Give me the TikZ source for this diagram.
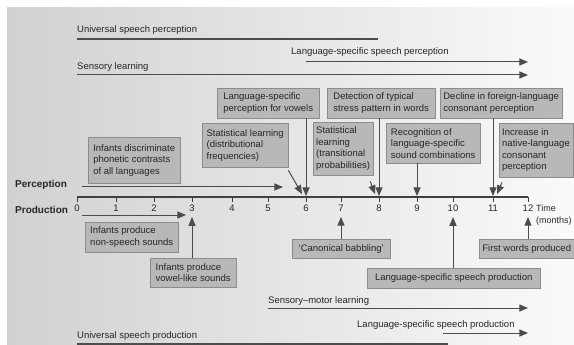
\documentclass[tikz,border=0pt]{standalone}
\usepackage{fontspec}
\setsansfont{Liberation Sans}
\usetikzlibrary{positioning}
\usetikzlibrary{arrows}
\usetikzlibrary{calc}

\tikzset{
  stage/.style={draw=black!45,fill=black!28,anchor=north west,align=left,inner sep=3pt,text=black!85},
  phase/.style={anchor=base west,inner sep=0pt,text=black!85},
  span/.style={line width=1pt,draw=black!70},
  bar/.style={line width=2pt,draw=black!70},
  axis/.style={line width=1pt,draw=black!75},
}

\begin{document}
\begin{tikzpicture}[>=triangle 45,font=\sffamily\fontsize{9.5}{11.5}\selectfont,x=1pt,y=-1pt]
    \useasboundingbox (0,0) rectangle (574,345);
    \shade [left color=black!18,right color=black!2] (7,8) rectangle (574,345);

    % time axis
    \foreach \m/\x in {0/77,1/116,2/154,3/192,4/232,5/268,6/306,7/341,8/379,9/417,10/453,11/493,12/528}{
        \coordinate (m\m) at (\x,197);
        \draw [axis] (m\m) -- ++(0,5) coordinate (t\m);
        \node (n\m) [below=2pt of t\m,inner sep=1pt,text=black!85] {\m};
    }
    \draw [axis] (m0) -- (m12);
    \node (time) [anchor=north west,align=left,inner sep=0pt,text=black!85,font=\sffamily\fontsize{9}{11.5}\selectfont] at (536,205) {Time\\(months)};

    \node (perc) [anchor=base west,inner sep=0pt,font=\sffamily\bfseries\fontsize{10}{12}\selectfont,text=black!85] at (15,188) {Perception};
    \node (prod) [anchor=base west,inner sep=0pt,font=\sffamily\bfseries\fontsize{10}{12}\selectfont,text=black!85] at (15,213) {Production};

    % phases, perception
    \node (usp)  [phase] at (77,33)  {Universal speech perception};
    \node (lssp) [phase] at (291,55) {Language-specific speech perception};
    \node (sl)   [phase] at (77,70)  {Sensory learning};
    \coordinate (usp-a) at (77,39);   \coordinate (usp-b) at (378,39);
    \coordinate (lssp-a) at (306,62); \coordinate (lssp-b) at (528,62);
    \coordinate (sl-a) at (77,75);    \coordinate (sl-b) at (528,75);
    \draw [bar] (usp-a) -- (usp-b);
    \draw [span,->] (lssp-a) -- (lssp-b);
    \draw [span,->] (sl-a) -- (sl-b);

    % perception milestones
    \node (vowels)  [stage,minimum width=102,minimum height=30] at (217,88) {Language-specific\\perception for vowels};
    \node (stress)  [stage,minimum width=108,minimum height=30] at (327,88) {Detection of typical\\stress pattern in words};
    \node (decline) [stage,minimum width=122,minimum height=30] at (440,88) {Decline in foreign-language\\consonant perception};
    \node (discrim) [stage,minimum width=92,minimum height=46]  at (88,137)  {Infants discriminate\\phonetic contrasts\\of all languages};
    \node (distrib) [stage,minimum width=86,minimum height=44]  at (202,123) {Statistical learning\\(distributional\\frequencies)};
    \node (trans)   [stage,minimum width=58,minimum height=53]  at (313,122) {Statistical\\learning\\(transitional\\probabilities)};
    \node (recog)   [stage,minimum width=94,minimum height=40]  at (386,123) {Recognition of\\language-specific\\sound combinations};
    \node (incr)    [stage,minimum width=71,minimum height=54]  at (499,123) {Increase in\\native-language\\consonant\\perception};

    \coordinate (perc-a) at (82,187); \coordinate (perc-b) at (283,187);
    \draw [span,->] (perc-a) -- (perc-b);
    \draw [span,->,shorten >=1pt] (vowels.south -| m6) -- (m6);
    \draw [span,->,shorten >=1pt] (stress.south -| m8) -- (m8);
    \draw [span,->,shorten >=1pt] (recog.south -| m9) -- (m9);
    \draw [span,->,shorten >=1pt] (decline.south -| m11) -- (m11);
    \draw [span,->] ($(distrib.south east)+(0,3)$) -- ($(m6)+(-4,-3)$);
    \draw [span,->] ($(trans.south east)+(-3,6)$) -- ($(m8)+(-4,-3)$);
    \draw [span,->] ($(incr.south west)+(3,5)$) -- ($(m11)+(4,-3)$);

    % production milestones
    \node (nonsp)  [stage,minimum width=93,minimum height=30]  at (85,222)  {Infants produce\\non-speech sounds};
    \node (vowlike)[stage,minimum width=86,minimum height=29]  at (150,258) {Infants produce\\vowel-like sounds};
    \node (babbl)  [stage,minimum width=98,minimum height=19]  at (292,239) {`Canonical babbling'};
    \node (first)  [stage,minimum width=95,minimum height=19]  at (479,239) {First words produced};
    \node (lspbox) [stage,minimum width=173,minimum height=20] at (367,268) {Language-specific speech production};

    \coordinate (prod-a) at (82,215); \coordinate (prod-b) at (186,215);
    \draw [span,->] (prod-a) -- (prod-b);
    \draw [span,->,shorten >=4pt] (vowlike.north -| n3) -- (n3.south);
    \draw [span,->,shorten >=4pt] (babbl.north -| n7) -- (n7.south);
    \draw [span,->,shorten >=4pt] (lspbox.north -| n10) -- (n10.south);
    \draw [span,->,shorten >=4pt] (first.north -| n12) -- (n12.south);

    % phases, production
    \node (sml)    [phase] at (268,303) {Sensory--motor learning};
    \node (lsprod) [phase] at (357,327) {Language-specific speech production};
    \node (uspr)   [phase] at (77,338)  {Universal speech production};
    \coordinate (sml-a) at (268,308);    \coordinate (sml-b) at (528,308);
    \coordinate (lsprod-a) at (443,333); \coordinate (lsprod-b) at (528,333);
    \coordinate (uspr-a) at (77,344);    \coordinate (uspr-b) at (448,344);
    \draw [span,->] (sml-a) -- (sml-b);
    \draw [span,->] (lsprod-a) -- (lsprod-b);
    \draw [bar] (uspr-a) -- (uspr-b);
\end{tikzpicture}
\end{document}
